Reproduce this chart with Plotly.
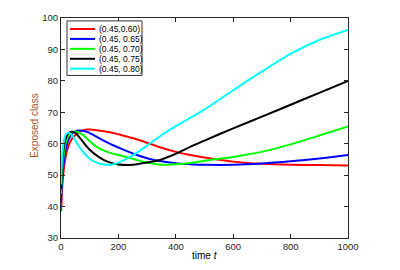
import plotly.graph_objects as go

t = [0, 3, 6, 10, 15, 20, 25, 30, 40, 50, 60, 75, 90, 100, 125, 150, 175, 200,
     250, 300, 350, 400, 450, 500, 600, 700, 800, 900, 1000]

red = [38.5, 44, 48.5, 52, 55.2, 57.5, 59, 60.2, 61.8, 62.8, 63.5, 64.2, 64.5, 64.5, 64.3, 64.0, 63.6, 63.0,
       61.8, 60.3, 58.7, 57.4, 56.4, 55.6, 54.3, 53.6, 53.3, 53.2, 53.1]
blue = [41.3, 47, 51, 54.5, 57.5, 59.5, 61, 62, 63.3, 63.9, 64.2, 64.1, 63.8, 63.4, 62.2, 60.9, 59.8, 58.8,
        56.9, 55.4, 54.4, 53.8, 53.5, 53.3, 53.3, 53.7, 54.4, 55.3, 56.4]
green = [44, 50, 54, 57, 59.7, 61.3, 62.3, 63, 63.7, 63.9, 63.7, 62.9, 61.7, 60.8, 59.0, 57.8, 57.0, 56.4,
         55.2, 54.0, 53.3, 53.5, 53.9, 54.6, 55.8, 57.4, 59.8, 62.6, 65.5]
black = [45.5, 52, 56, 59, 61.3, 62.5, 63.2, 63.6, 63.8, 63.4, 62.5, 60.8, 59.1, 58.1, 56.2, 54.8, 53.9, 53.4,
         53.3, 54.0, 55.0, 56.8, 59.0, 61.0, 64.9, 68.6, 72.4, 76.2, 80.0]
cyan = [47, 54, 58, 60.8, 62.5, 63.2, 63.5, 63.4, 62.5, 61.0, 59.5, 57.6, 56.1, 55.2, 54.0, 53.4, 53.3, 54.0,
        56.3, 59.4, 62.7, 65.6, 68.2, 70.9, 77.0, 83.0, 88.6, 93.0, 96.2]

names = ["(0.45,0.60)", "(0.45, 0.65)", "(0.45, 0.70)", "(0.45, 0.75)", "(0.45, 0.80)"]
colors = ["#ff0000", "#0000ff", "#00ff00", "#000000", "#00ffff"]
series = [red, blue, green, black, cyan]

x_ticks = [0, 200, 400, 600, 800, 1000]
y_ticks = [30, 40, 50, 60, 70, 80, 90, 100]

FONT = "Liberation Sans, Arial, sans-serif"

fig = go.Figure()
for nm, col, ys in zip(names, colors, series):
    fig.add_trace(go.Scatter(x=t, y=ys, mode="lines", name=nm,
                             line=dict(color=col, width=2, shape="spline", smoothing=0.8),
                             showlegend=False))

# manual legend (compact, MATLAB style)
PW, PH = 287.0, 226.0
shapes = [dict(type="rect", xref="paper", yref="paper", x0=6 / PW, x1=81 / PW, y0=1 - 59 / PH, y1=1 - 3 / PH,
               line=dict(color="#333333", width=1), fillcolor="white", layer="above")]
annotations = []
item_h = 10.2 / PH
y_first = 1 - 11.3 / PH
for i, (nm, col) in enumerate(zip(names, colors)):
    yc = y_first - i * item_h
    shapes.append(dict(type="line", xref="paper", yref="paper", x0=9 / PW, x1=34 / PW,
                       y0=yc, y1=yc, line=dict(color=col, width=2), layer="above"))
    annotations.append(dict(xref="paper", yref="paper", x=36 / PW, y=yc, text=nm,
                            showarrow=False, xanchor="left", yanchor="middle",
                            font=dict(family=FONT, size=8.5, color="#000000")))

annotations.append(dict(xref="paper", yref="paper", x=0.5, y=-(256 - 238) / PH, text="time <i>t</i>",
                        showarrow=False, xanchor="center", yanchor="middle",
                        font=dict(family=FONT, size=10, color="#000000")))
annotations.append(dict(xref="paper", yref="paper", x=-(61 - 35) / PW, y=0.51, text="Exposed class",
                        showarrow=False, textangle=-90, xanchor="center", yanchor="middle",
                        font=dict(family=FONT, size=10, color="#a8561a")))

fig.update_layout(
    width=400, height=270,
    margin=dict(l=61, r=52, t=12, b=32),
    paper_bgcolor="white", plot_bgcolor="white",
    shapes=shapes, annotations=annotations,
    font=dict(family=FONT, size=9.5, color="#262626"),
)
fig.update_xaxes(range=[0, 1000], tickvals=x_ticks, ticks="inside", ticklen=4, tickcolor="#262626",
                 showline=True, linecolor="#262626", linewidth=1, mirror="ticks", showgrid=False,
                 zeroline=False, tickfont=dict(family=FONT, size=9.5, color="#262626"))
fig.update_yaxes(range=[30, 100], tickvals=y_ticks, ticks="inside", ticklen=4, tickcolor="#262626",
                 showline=True, linecolor="#262626", linewidth=1, mirror="ticks", showgrid=False,
                 zeroline=False, tickfont=dict(family=FONT, size=9.5, color="#262626"))

# remove the default 8px page margin so the figure sits at the window's top-left corner
fig.write_html("out.html", config={"displayModeBar": False},
               post_script="document.body.style.margin='0px';")
